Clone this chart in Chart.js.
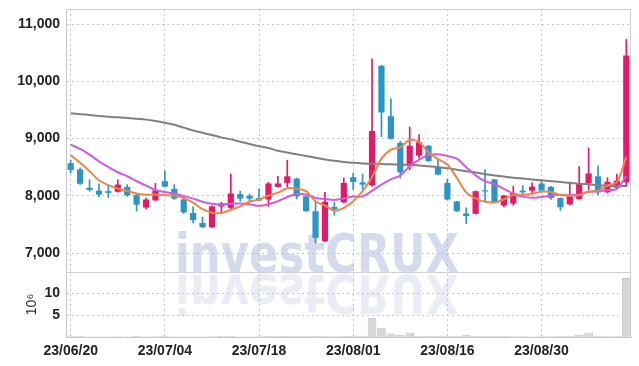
<!DOCTYPE html>
<html><head><meta charset="utf-8">
<script src="https://cdn.jsdelivr.net/npm/chart.js@4.4.0/dist/chart.umd.min.js"></script>
<style>html,body{margin:0;padding:0;background:#fff;}#wrap{width:639px;height:366px;}</style>
</head><body><div id="wrap"><canvas id="c" width="639" height="366"></canvas></div>
<script>
const dates = ['23/06/20','23/06/21','23/06/22','23/06/23','23/06/26','23/06/27','23/06/28','23/06/29','23/06/30','23/07/03',
'23/07/04','23/07/05','23/07/06','23/07/07','23/07/10','23/07/11','23/07/12','23/07/13','23/07/14','23/07/17',
'23/07/18','23/07/19','23/07/20','23/07/21','23/07/24','23/07/25','23/07/26','23/07/27','23/07/28','23/07/31',
'23/08/01','23/08/02','23/08/03','23/08/04','23/08/07','23/08/08','23/08/09','23/08/10','23/08/11','23/08/14',
'23/08/16','23/08/17','23/08/18','23/08/21','23/08/22','23/08/23','23/08/24','23/08/25','23/08/28','23/08/29',
'23/08/30','23/08/31','23/09/01','23/09/04','23/09/05','23/09/06','23/09/07','23/09/08','23/09/11','23/09/12'];
const openP = [8570,8460,8140,8090,8080,8070,8155,8015,7795,7920,8255,8120,7935,7700,7525,7450,7815,7790,8030,8000,
7960,7935,8155,8225,8300,7990,7730,7205,7805,7885,8325,8235,8185,10270,9390,8925,8515,8700,8875,8505,
8225,7900,7690,7685,8095,8285,7830,7865,8090,8090,8215,8155,7960,7850,7945,8220,8340,8060,8140,8235];
const highP = [8620,8490,8280,8210,8170,8280,8195,8030,7960,8215,8440,8195,7990,7805,7630,7825,7885,8380,8080,8030,
8120,8235,8340,8620,8310,8000,7885,8060,7885,8310,8400,8380,10390,10280,9695,8950,9200,9070,8880,8630,
8295,7905,7790,8085,8455,8290,8010,8165,8180,8225,8285,8165,7965,8240,8510,8835,8525,8315,8380,10730];
const lowP = [8400,8200,8080,7980,7970,8065,7990,7730,7770,7915,8155,7935,7690,7525,7445,7445,7710,7775,7905,7900,
7910,7815,8150,8155,7945,7725,7175,7200,7660,7875,8110,8110,8165,9035,8990,8310,8455,8660,8600,8365,
7930,7725,7515,7680,7905,7875,7805,7835,8020,8040,8085,7935,7745,7840,7935,8100,8020,8050,8130,8165];
const closeP = [8450,8210,8100,8020,8050,8195,8005,7845,7935,8095,8160,7950,7710,7575,7450,7815,7865,8040,7950,7950,
7915,8215,8215,8340,7990,7730,7265,7895,7760,8225,8240,8195,9130,9455,8995,8410,8875,8935,8605,8370,
7935,7730,7645,8080,8075,7885,8005,8050,8060,8160,8090,7960,7800,7990,8215,8390,8060,8245,8265,10450];
const ma5 = [8710,8575,8430,8270,8185,8125,8085,8040,8020,8020,8012,8003,7960,7880,7765,7705,7700,7755,7815,7900,
7935,8005,8055,8130,8125,8080,7900,7830,7740,7790,7905,8080,8330,8650,8805,8845,8975,8935,8760,8640,
8545,8315,8060,7955,7895,7885,7935,8015,8015,8035,8070,8065,8015,8000,8010,8070,8090,8180,8235,8680];
const ma10 = [8893,8818,8719,8602,8504,8411,8341,8254,8178,8100,8065,8040,7995,7950,7895,7860,7848,7862,7865,7852,
7825,7852,7905,7978,8032,8022,7962,7944,7928,7953,7988,7990,8085,8195,8287,8355,8518,8630,8712,8725,
8695,8648,8500,8357,8255,8205,8120,8035,7985,7965,7980,8002,8016,8010,8023,8070,8078,8097,8120,8345];
const maLong = [9440,9425,9410,9395,9380,9370,9360,9345,9330,9305,9275,9240,9190,9140,9100,9060,9020,8985,8945,8905,
8865,8835,8785,8755,8725,8695,8665,8635,8610,8590,8575,8565,8560,8555,8550,8545,8540,8530,8515,8500,
8480,8455,8430,8405,8375,8355,8335,8315,8300,8285,8270,8255,8240,8225,8212,8200,8185,8175,8170,8170];
const volumeM = [0.15,0.3,0.12,0.1,0.1,0.15,0.1,0.25,0.1,0.15,0.2,0.1,0.1,0.1,0.1,0.15,0.25,0.3,0.1,0.1,
0.15,0.3,0.2,0.25,0.25,0.2,0.25,0.25,0.15,0.2,0.2,0.2,4.4,2.1,0.8,0.5,1.0,0.3,0.3,0.2,
0.2,0.2,0.5,0.3,0.3,0.3,0.2,0.15,0.15,0.1,0.15,0.15,0.2,0.3,0.5,1.0,0.3,0.15,0.2,13.4];
const priceTicks = [7000, 8000, 9000, 10000, 11000];
const volumeTicks = [5, 10];

const UP = '#e3196a', DOWN = '#2b95c8';
const isUp = closeP.map((c, i) => c >= openP[i]);
const candleColors = isUp.map(u => u ? UP : DOWN);

const FONT = "'Liberation Sans', Arial, sans-serif";

const framePlugin = {
  id: 'frame',
  beforeDatasetsDraw(chart) {
    const ctx = chart.ctx, a = chart.chartArea, yv = chart.scales.yv;
    ctx.save();
    ctx.font = "bold 53px 'DejaVu Sans', sans-serif";
    const txt = 'investCRUX';
    const w = ctx.measureText(txt).width;
    const x0 = a.left + 109, targetW = 284;
    ctx.translate(x0, yv.top);
    ctx.scale(targetW / w, 1);
    ctx.textBaseline = 'alphabetic';
    ctx.fillStyle = 'rgba(160,175,215,0.45)';
    ctx.fillText(txt, 0, 0);
    ctx.scale(1, -1);
    ctx.fillStyle = 'rgba(160,175,215,0.22)';
    ctx.fillText(txt, 0, -3);
    ctx.restore();
    ctx.save();
    ctx.strokeStyle = '#cfcfd6';
    ctx.lineWidth = 1;
    ctx.beginPath();
    ctx.moveTo(a.left, Math.round(a.top) + 0.5); ctx.lineTo(a.right, Math.round(a.top) + 0.5);
    ctx.moveTo(Math.round(a.right) - 0.5, a.top); ctx.lineTo(Math.round(a.right) - 0.5, a.bottom);
    ctx.moveTo(a.left, Math.round(yv.top) + 0.5); ctx.lineTo(a.right, Math.round(yv.top) + 0.5);
    ctx.stroke();
    ctx.restore();
  }
};

const noPad = s => { s.paddingTop = 0; s.paddingBottom = 0; };

new Chart(document.getElementById('c'), {
  type: 'bar',
  data: {
    labels: dates,
    datasets: [
      { type: 'line', data: ma5, borderColor: '#ee8547', borderWidth: 2, pointRadius: 0, tension: 0.3, yAxisID: 'y', order: 0 },
      { type: 'line', data: ma10, borderColor: '#cf5ae6', borderWidth: 2, pointRadius: 0, tension: 0.3, yAxisID: 'y', order: 0 },
      { type: 'line', data: maLong, borderColor: '#808080', borderWidth: 2, pointRadius: 0, tension: 0.3, yAxisID: 'y', order: 0 },
      { data: openP.map((o, i) => [o, closeP[i]]), backgroundColor: candleColors, borderWidth: 0, grouped: false, barPercentage: 0.66, categoryPercentage: 1, yAxisID: 'y', order: 1 },
      { data: lowP.map((l, i) => [l, highP[i]]), backgroundColor: candleColors, borderWidth: 0, grouped: false, barThickness: 1, yAxisID: 'y', order: 2 },
      { data: volumeM, backgroundColor: '#d6d6db', borderColor: '#c6c6cc', borderWidth: 1, grouped: false, barPercentage: 0.92, categoryPercentage: 1, yAxisID: 'yv', order: 3 }
    ]
  },
  options: {
    responsive: false,
    animation: false,
    layout: { padding: { top: 9, right: 8, left: 0, bottom: 0 } },
    plugins: { legend: { display: false }, tooltip: { enabled: false } },
    scales: {
      x: {
        type: 'category',
        offset: true,
        grid: { offset: false, color: '#c3c7dc', drawTicks: false },
        border: { color: '#c8c8d0', dash: [2, 3] },
        ticks: {
          autoSkip: false, maxRotation: 0, padding: 6, color: '#222',
          font: { family: FONT, size: 14, weight: 'bold' },
          callback: (v, i) => (i % 10 === 0 ? dates[i] : null)
        },
        afterFit: s => { s.height = 29; s.paddingLeft = 0; s.paddingRight = 0; }
      },
      yv: {
        type: 'linear', position: 'left', stack: 'p', stackWeight: 1,
        min: 0, max: 14.77,
        grid: { color: '#c3c7dc', drawTicks: false },
        border: { color: '#c8c8d0', dash: [2, 3] },
        afterBuildTicks: s => { s.ticks = volumeTicks.map(v => ({ value: v })); },
        ticks: { padding: 6, color: '#222',
          font: { family: FONT, size: 14, weight: 'bold' },
          callback: v => String(v) },
        title: { display: true, text: '10⁶', color: '#333', padding: { top: 24, bottom: 0 }, font: { family: FONT, size: 14 } },
        afterFit: s => { s.width = 66; noPad(s); }
      },
      y: {
        type: 'linear', position: 'left', stack: 'p', stackWeight: 4.05,
        min: 6668, max: 11262,
        grid: { color: '#c3c7dc', drawTicks: false },
        border: { color: '#c8c8d0', dash: [2, 3] },
        afterBuildTicks: s => { s.ticks = priceTicks.map(v => ({ value: v })); },
        ticks: { padding: 6, color: '#222',
          font: { family: FONT, size: 14, weight: 'bold' },
          callback: v => v.toLocaleString('en-US') },
        afterFit: s => { s.width = 66; noPad(s); }
      }
    }
  },
  plugins: [framePlugin]
});
</script>
</body></html>
